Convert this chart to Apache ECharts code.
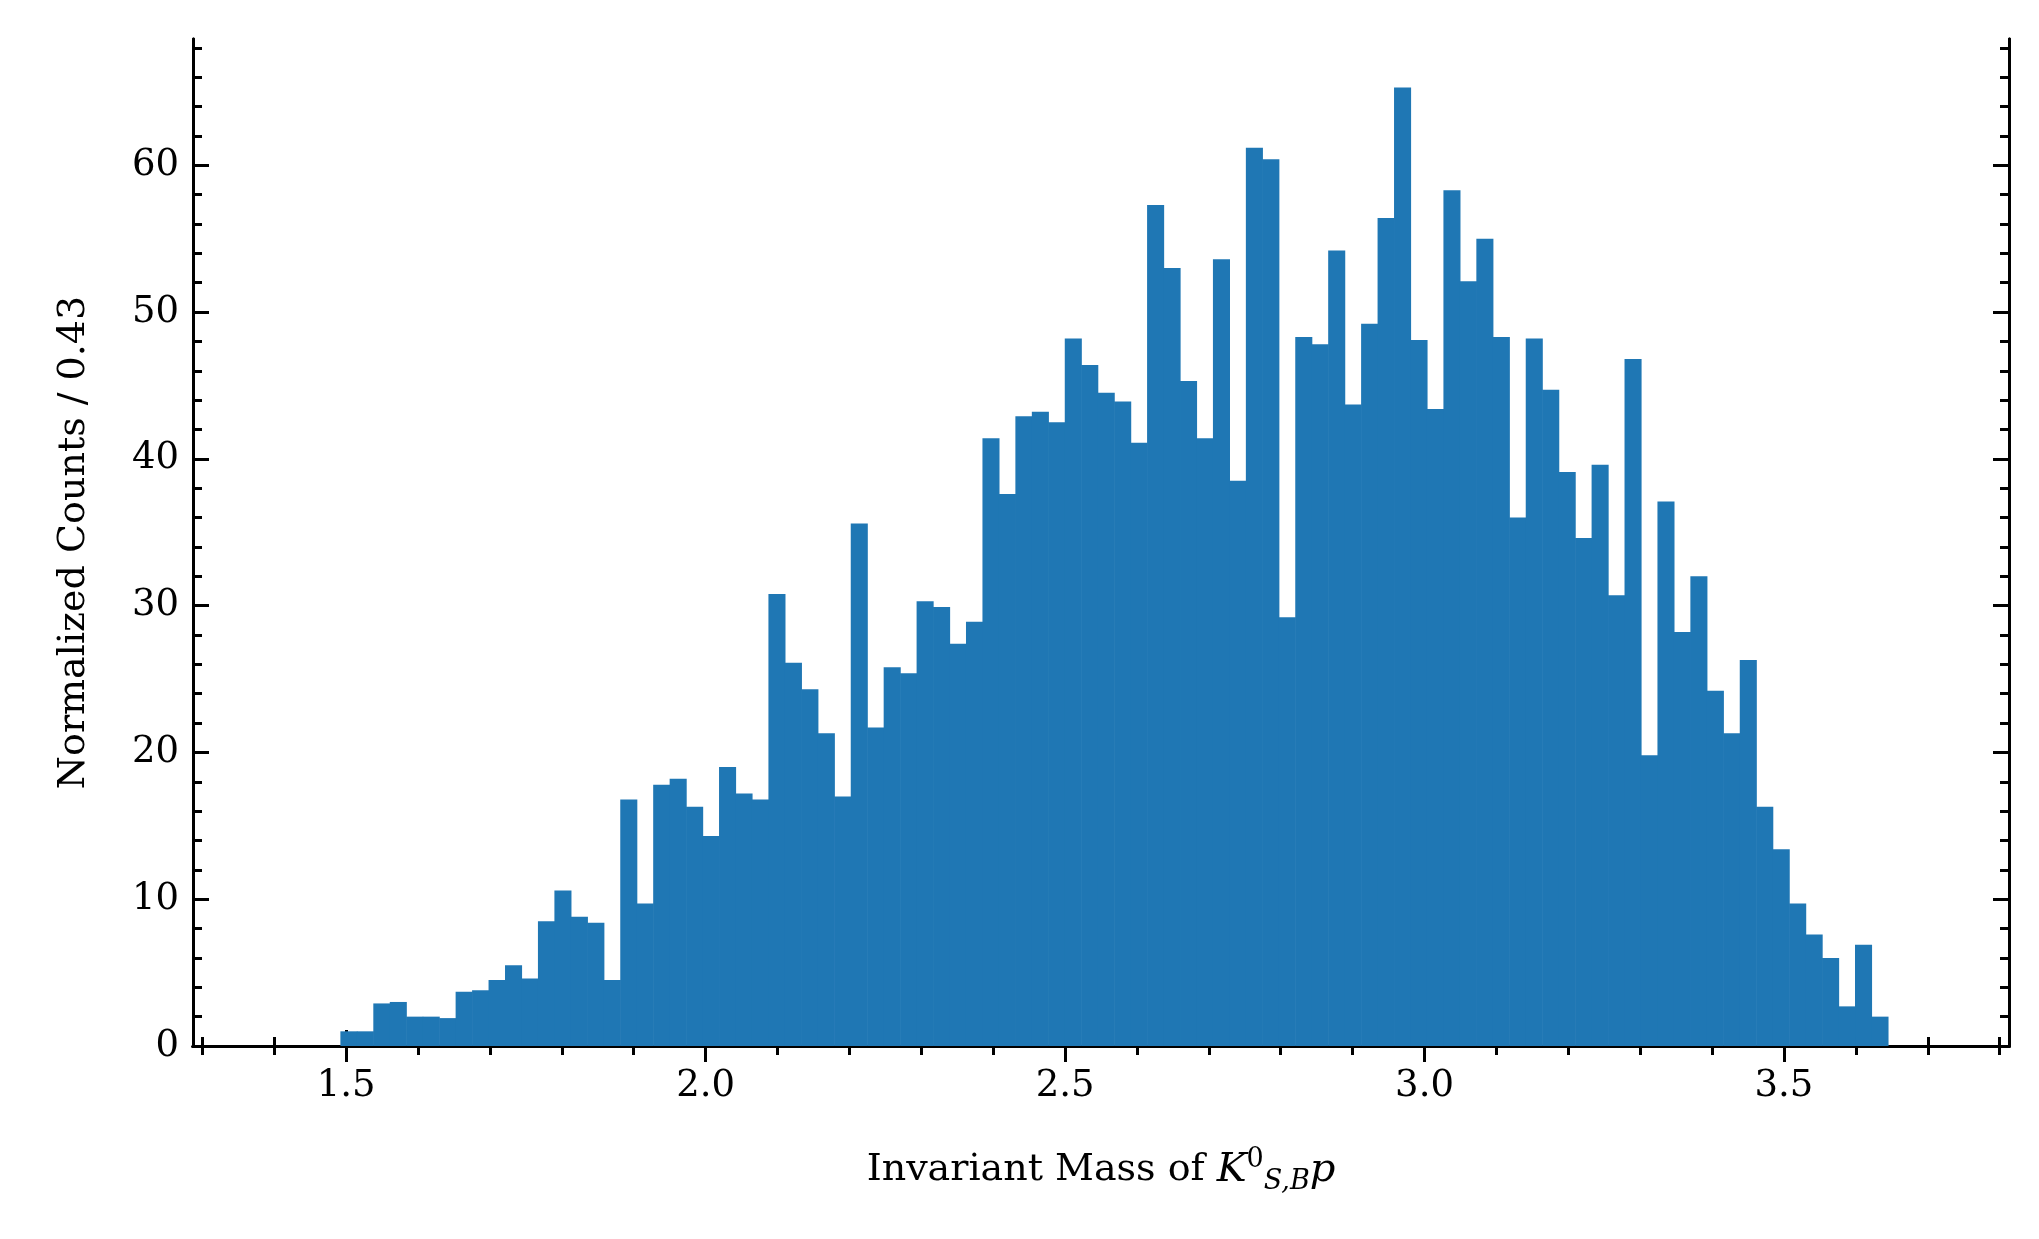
<!DOCTYPE html>
<html lang="en">
<head>
    <meta charset="UTF-8">
    <title>Invariant mass histogram</title>
    <script src="https://cdn.jsdelivr.net/npm/echarts@6/dist/echarts.min.js"></script>
    <style>body{margin:0;background:#fff}</style>
</head>
<body>
    <div id="main" style="width:2039px;height:1239px;"></div>
    <script type="text/javascript">
        // histogram bins
        var binStart = 1.492;
        var binWidth = 0.0229;
        var counts = [1.0, 1.0, 2.9, 3.0, 2.0, 2.0, 1.9, 3.7, 3.8, 4.5, 5.5, 4.6, 8.5, 10.6, 8.8, 8.4, 4.5,
            16.8, 9.7, 17.8, 18.2, 16.3, 14.3, 19.0, 17.2, 16.8, 30.8, 26.1, 24.3, 21.3, 17.0, 35.6, 21.7,
            25.8, 25.4, 30.3, 29.9, 27.4, 28.9, 41.4, 37.6, 42.9, 43.2, 42.5, 48.2, 46.4, 44.5, 43.9, 41.1,
            57.3, 53.0, 45.3, 41.4, 53.6, 38.5, 61.2, 60.4, 29.2, 48.3, 47.8, 54.2, 43.7, 49.2, 56.4, 65.3,
            48.1, 43.4, 58.3, 52.1, 55.0, 48.3, 36.0, 48.2, 44.7, 39.1, 34.6, 39.6, 30.7, 46.8, 19.8, 37.1,
            28.2, 32.0, 24.2, 21.3, 26.3, 16.3, 13.4, 9.7, 7.6, 6.0, 2.7, 6.9, 2.0];
        var xMajor = [1.5, 2.0, 2.5, 3.0, 3.5];
        var xMinor = [1.3, 1.4, 1.6, 1.7, 1.8, 1.9, 2.1, 2.2, 2.3, 2.4, 2.6, 2.7, 2.8, 2.9, 3.1, 3.2, 3.3, 3.4, 3.6, 3.7, 3.8];
        var yMajor = [0, 10, 20, 30, 40, 50, 60];
        var yMinor = [2, 4, 6, 8, 12, 14, 16, 18, 22, 24, 26, 28, 32, 34, 36, 38, 42, 44, 46, 48, 52, 54, 56, 58, 62, 64, 66, 68];

        var xMin = 1.287, xMax = 3.813, yMin = 0, yMax = 68.6;
        var font = 'DejaVu Serif';

        var bins = counts.map(function (c, i) {
            return [binStart + i * binWidth, binStart + (i + 1) * binWidth, c];
        });

        function xAx(pos, vals, len, label) {
            return {
                type: 'value', position: pos, min: xMin, max: xMax,
                axisLine: {show: true, lineStyle: {color: '#000', width: 3}},
                splitLine: {show: false},
                axisTick: {inside: true, length: len, customValues: vals, lineStyle: {color: '#000', width: 3}},
                axisLabel: label ? {customValues: vals, fontFamily: font, fontSize: 37, color: '#000', margin: 22,
                    formatter: function (v) { return v.toFixed(1); }} : {show: false},
                name: label ? '{t|Invariant Mass of }{i|K}{sup|0}{sub|S,B}{i|p}' : '',
                nameLocation: 'middle', nameGap: 100,
                nameTextStyle: {rich: {
                    t: {fontFamily: font, fontSize: 38, color: '#000'},
                    i: {fontFamily: font, fontSize: 40, fontStyle: 'italic', color: '#000'},
                    sup: {fontFamily: font, fontSize: 27, color: '#000', verticalAlign: 'top', padding: [0, 0, 22, 0]},
                    sub: {fontFamily: font, fontSize: 27, fontStyle: 'italic', color: '#000', verticalAlign: 'bottom', padding: [18, 0, 0, 0]}
                }}
            };
        }
        function yAx(pos, vals, len, label) {
            return {
                type: 'value', position: pos, min: yMin, max: yMax,
                axisLine: {show: true, lineStyle: {color: '#000', width: 3}},
                splitLine: {show: false},
                axisTick: {inside: true, length: len, customValues: vals, lineStyle: {color: '#000', width: 3}},
                axisLabel: label ? {customValues: vals, fontFamily: font, fontSize: 37, color: '#000', margin: 14} : {show: false},
                name: label ? 'Normalized Counts / 0.43' : '',
                nameLocation: 'middle', nameGap: 100, nameRotate: 90,
                nameTextStyle: {fontFamily: font, fontSize: 38, color: '#000'}
            };
        }

        var myChart = echarts.init(document.getElementById('main'));
        var option = {
            animation: false,
            backgroundColor: '#fff',
            grid: {left: 193, right: 30, top: 39, bottom: 193},
            xAxis: [xAx('bottom', xMajor, 16, true), xAx('bottom', xMinor, 9, false),
                    xAx('top', xMajor, 16, false), xAx('top', xMinor, 9, false)],
            yAxis: [yAx('left', yMajor, 16, true), yAx('left', yMinor, 9, false),
                    yAx('right', yMajor, 16, false), yAx('right', yMinor, 9, false)],
            series: [{
                type: 'custom',
                xAxisIndex: 0, yAxisIndex: 0,
                data: bins,
                renderItem: function (params, api) {
                    var p0 = api.coord([api.value(0), api.value(2)]);
                    var p1 = api.coord([api.value(1), 0]);
                    return {
                        type: 'rect',
                        shape: {x: p0[0], y: p0[1], width: p1[0] - p0[0] + 0.6, height: p1[1] - p0[1]},
                        style: {fill: '#1f77b4'}
                    };
                },
                z: 1
            }]
        };
        myChart.setOption(option);
    </script>
</body>
</html>
